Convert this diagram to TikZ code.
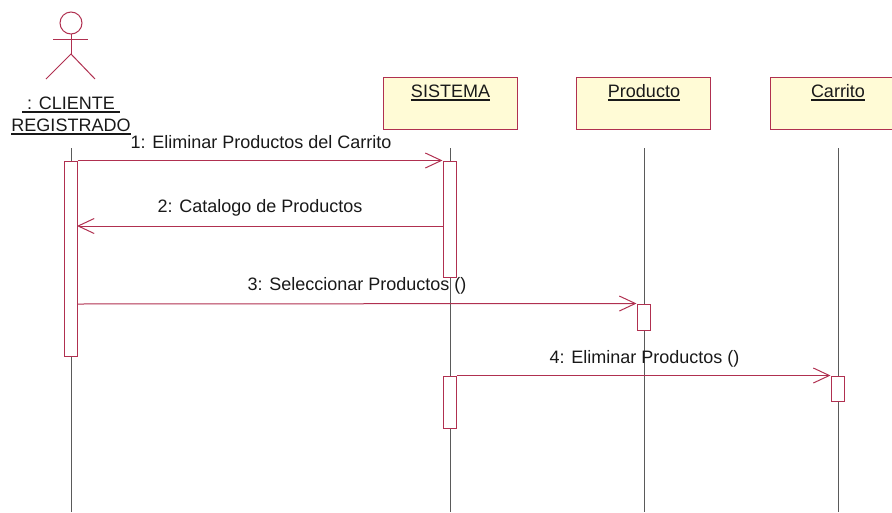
\documentclass[tikz,border=0pt]{standalone}
\usepackage{fontspec}
\setmainfont{Liberation Sans}
\usetikzlibrary{arrows.meta}
\definecolor{umlred}{RGB}{176,48,80}
\definecolor{umlyellow}{RGB}{255,251,214}
\definecolor{lifegray}{RGB}{90,90,90}
\newcommand{\objul}[1]{\vtop{\hbox{#1}\kern1.8pt\hrule height 1.7pt}}
\tikzset{
	objbox/.style={draw=umlred,fill=umlyellow,line width=1,minimum width=134pt,minimum height=52pt,inner sep=0},
	objname/.style={font=\fontsize{18}{22}\selectfont,text=black!90,inner sep=0},
	msgtext/.style={font=\fontsize{18}{22}\selectfont,text=black!90,inner sep=0},
	actbox/.style={draw=umlred,fill=white,line width=1,minimum width=13pt,inner sep=0},
	lifeline/.style={draw=lifegray,line width=1},
	actor/.style={draw=umlred,line width=1},
	msg/.style={draw=umlred,line width=1,-{Straight Barb[length=16pt,width=15pt,line width=1]}},
}
\begin{document}
\begin{tikzpicture}[x=1pt,y=-1pt]
	\path[use as bounding box,clip] (0,0) rectangle (892,512);
	% objetos
	\node[objbox] (sistema) at (450,103) {};
	\node[objbox] (producto) at (643.5,103) {};
	\node[objbox] (carrito) at (837,103) {};
	\node[objname,anchor=base] (sistemaname) at (450.5,97) {\objul{SISTEMA}};
	\node[objname,anchor=base] (productoname) at (644,97) {\objul{Producto}};
	\node[objname,anchor=base] (carritoname) at (838,97) {\objul{Carrito}};
	% actor
	\coordinate (neck) at (71,34);
	\coordinate (hip) at (71,54);
	\coordinate (handL) at (53,39);
	\coordinate (handR) at (88,39);
	\coordinate (footL) at (46,79);
	\coordinate (footR) at (95,79);
	\draw[actor] (71,23) circle (11);
	\draw[actor] (neck) to (hip);
	\draw[actor] (handL) to (handR);
	\draw[actor] (footL) to (hip) to (footR);
	\node[objname,anchor=base] (clientename) at (71,109) {\objul{\ : CLIENTE\ }};
	\node[objname,anchor=base] (registrado) at (71,131) {\objul{REGISTRADO}};
	% lineas de vida
	\coordinate (lifeA) at (71,148);
	\coordinate (lifeB) at (450,148);
	\coordinate (lifeC) at (644,148);
	\coordinate (lifeD) at (838,148);
	\coordinate (endA) at (71,512);
	\coordinate (endB) at (450,512);
	\coordinate (endC) at (644,512);
	\coordinate (endD) at (838,512);
	\draw[lifeline] (lifeA) to (endA);
	\draw[lifeline] (lifeB) to (endB);
	\draw[lifeline] (lifeC) to (endC);
	\draw[lifeline] (lifeD) to (endD);
	% activaciones
	\node[actbox,minimum height=195pt] (actA) at (70.5,258.5) {};
	\node[actbox,minimum height=116pt] (actB) at (449.5,219) {};
	\node[actbox,minimum height=52pt] (actE) at (449.5,402) {};
	\node[actbox,minimum height=26pt] (actC) at (643.5,317) {};
	\node[actbox,minimum height=25pt] (actD) at (837.5,388.5) {};
	% mensajes
	\coordinate (m2s) at (443,226);
	\coordinate (m2e) at (77,226);
	\coordinate (m3s) at (77,304);
	\draw[msg] (actA.north east) to (actB.north west);
	\draw[msg] (m2s) to (m2e);
	\draw[msg] (m3s) to (actC.north west);
	\draw[msg] (actE.north east) to (actD.north west);
	\node[msgtext] (msga) at (261,142.5) {1: Eliminar Productos del Carrito};
	\node[msgtext] (msgb) at (260,208) {2: Catalogo de Productos};
	\node[msgtext] (msgc) at (357,285.5) {3: Seleccionar Productos ()};
	\node[msgtext] (msgd) at (644.5,358.5) {4: Eliminar Productos ()};
\end{tikzpicture}
\end{document}
